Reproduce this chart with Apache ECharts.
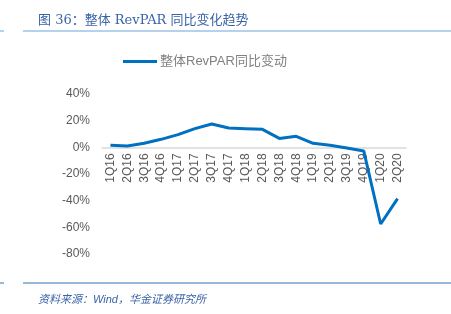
<!DOCTYPE html>
<html>
<head>
<meta charset="utf-8">
<script src="https://cdn.jsdelivr.net/npm/echarts@6/dist/echarts.min.js"></script>
<style>
html,body{margin:0;padding:0;background:#fff;}
#main{width:451px;height:314px;}
</style>
</head>
<body>
<div id="main"></div>
<script>
var myChart = echarts.init(document.getElementById('main'));

var quarters = ['1Q16','2Q16','3Q16','4Q16','1Q17','2Q17','3Q17','4Q17','1Q18','2Q18',
    '3Q18','4Q18','1Q19','2Q19','3Q19','4Q19','1Q20','2Q20'];
var revparYoy = [1.5, 1, 3, 6, 9.5, 14, 17.5, 14.5, 14, 13.5, 6.7, 8.3, 3, 1.6, -0.5, -2.8, -57.5, -38.5];
var seriesName = '整体RevPAR同比变动';
var titleText = '图 36：整体 RevPAR 同比变化趋势';
var sourceText = '资料来源：Wind，华金证券研究所';

// grid 94..254 for -80..40, so zero sits 106.7px above the bottom edge
var yMin = -80, yMax = 40;
var gridTop = 94, gridBottom = 60, chartH = 314;
var plotH = chartH - gridTop - gridBottom;
var zeroOffset = -plotH * (0 - yMin) / (yMax - yMin);

var option = {
    backgroundColor: '#fff',
    animation: false,
    title: [{
        text: titleText,
        left: 33, top: 9,
        textStyle: {
            fontFamily: 'DejaVu Serif, Noto Sans CJK SC',
            fontSize: 13, fontWeight: 'normal', color: '#3a64a8'
        }
    }, {
        text: sourceText,
        left: 33, top: 289,
        textStyle: {
            fontFamily: 'Liberation Sans, Noto Sans CJK SC',
            fontSize: 11, fontWeight: 'normal', fontStyle: 'italic', color: '#3a64a8'
        }
    }],
    graphic: [
        {type: 'line', shape: {x1: 0, y1: 31, x2: 4, y2: 31}, style: {stroke: '#9dc3e6', lineWidth: 1.5}},
        {type: 'line', shape: {x1: 23, y1: 31, x2: 451, y2: 31}, style: {stroke: '#9dc3e6', lineWidth: 1.5}},
        {type: 'line', shape: {x1: 0, y1: 283, x2: 4, y2: 283}, style: {stroke: '#2e75b6', lineWidth: 1}},
        {type: 'line', shape: {x1: 23, y1: 283, x2: 451, y2: 283}, style: {stroke: '#2e75b6', lineWidth: 1}}
    ],
    legend: {
        data: [seriesName],
        top: 55, left: 123,
        padding: 0,
        itemWidth: 34, itemHeight: 3, itemGap: 4,
        icon: 'rect',
        textStyle: {fontFamily: 'Liberation Sans, Noto Sans CJK SC', fontSize: 13, color: '#808080', padding: [0, 0, 0, -2]}
    },
    grid: {left: 102, right: 45, top: gridTop, bottom: gridBottom, containLabel: false},
    xAxis: {
        type: 'category',
        data: quarters,
        boundaryGap: true,
        position: 'bottom',
        offset: zeroOffset,
        axisLine: {onZero: false, lineStyle: {color: '#d9d9d9', width: 1.5}},
        axisTick: {show: false},
        axisLabel: {
            rotate: 90, interval: 0, margin: 6,
            fontFamily: 'Liberation Sans', fontSize: 12, color: '#595959'
        }
    },
    yAxis: {
        type: 'value',
        min: yMin, max: yMax, interval: 20,
        axisLine: {show: false},
        axisTick: {show: false},
        splitLine: {show: false},
        axisLabel: {
            formatter: '{value}%', margin: 12,
            fontFamily: 'Liberation Sans', fontSize: 12, color: '#595959'
        }
    },
    series: [{
        name: seriesName,
        type: 'line',
        data: revparYoy,
        symbol: 'none',
        lineStyle: {color: '#0070c0', width: 3},
        itemStyle: {color: '#0070c0'}
    }]
};
myChart.setOption(option);
</script>
</body>
</html>
